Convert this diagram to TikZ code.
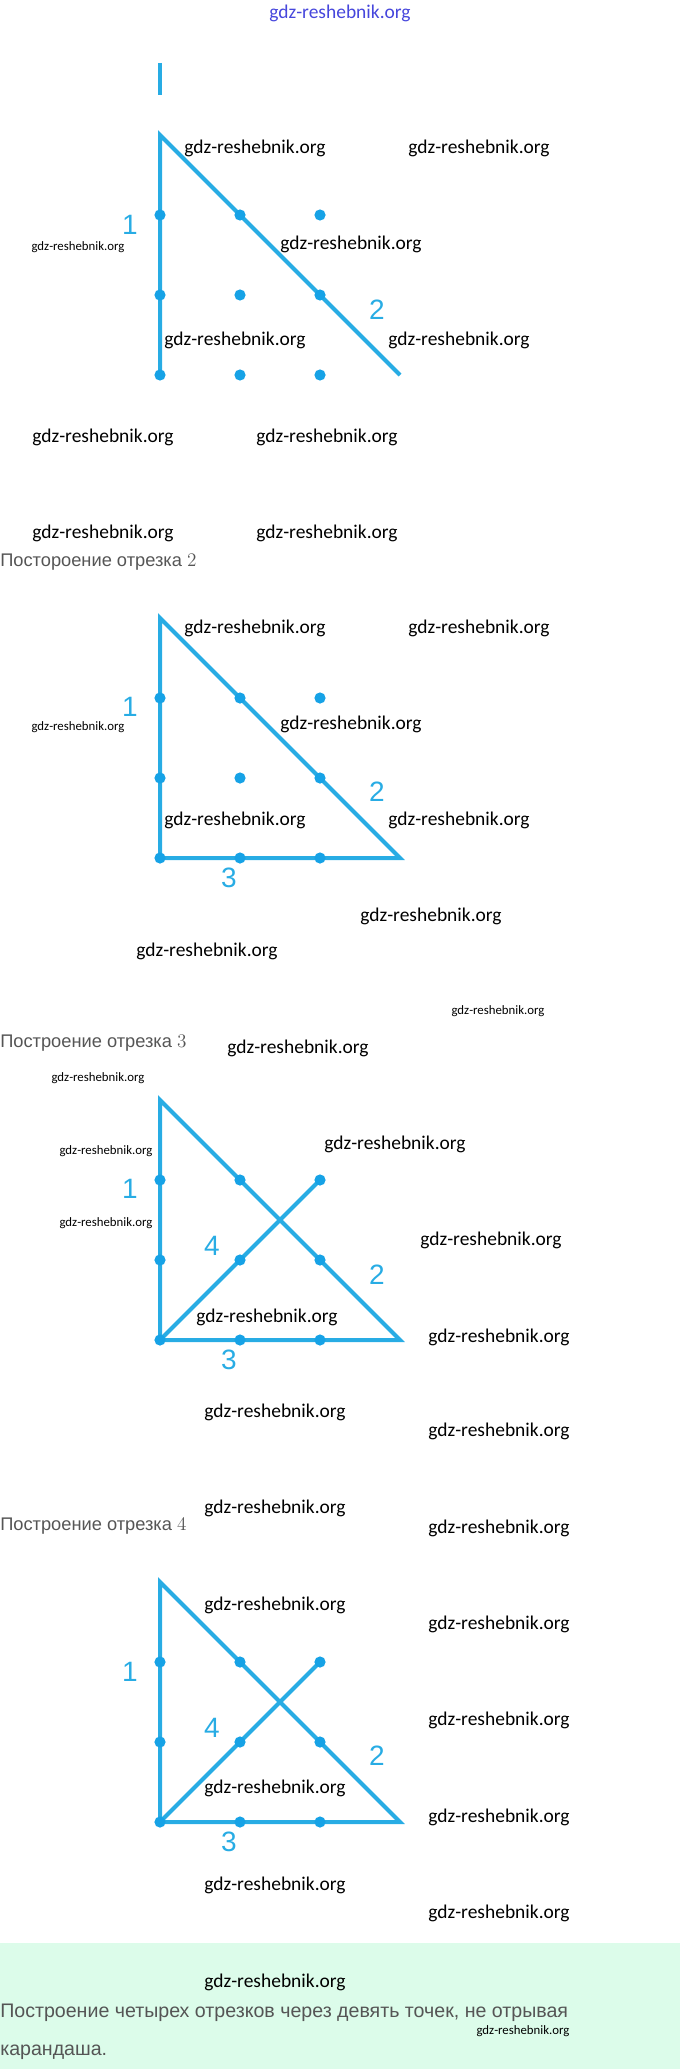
\documentclass[tikz,border=0pt]{standalone}
\usepackage{fontspec}
\setmainfont{Liberation Sans}
\newfontfamily\wmfont{Carlito}
\usetikzlibrary{backgrounds}
\definecolor{lblue}{RGB}{40,172,228}
\definecolor{dblue}{RGB}{22,162,230}
\definecolor{gtext}{RGB}{85,85,85}
\definecolor{mint}{RGB}{220,252,234}
\definecolor{wblue}{RGB}{70,70,220}
\newcommand\ninegrid[2]{%
  \coordinate (#1t) at (160,#2);
  \coordinate (#1e) at (400,#2+240);
  \foreach \r in {1,2,3}{\foreach \c in {1,2,3}{
    \node[dotnode] (#1\r\c) at ({80+80*\c},{#2+80*\r}) {};}}%
}
\begin{document}
\begin{tikzpicture}[x=0.75pt,y=-0.75pt,
  seg/.style={draw=lblue,line width=3pt,line join=miter},
  dotnode/.style={circle,fill=dblue,inner sep=0pt,minimum size=8.4pt},
  num/.style={text=lblue,font=\fontsize{21pt}{21pt}\selectfont,inner sep=0pt},
  wml/.style={font=\wmfont\fontsize{14.6pt}{15pt}\selectfont,inner sep=0pt},
  wms/.style={font=\wmfont\fontsize{9.6pt}{10pt}\selectfont,inner sep=0pt},
  head/.style={anchor=west,text=gtext,font=\fontsize{13.7pt}{16pt}\selectfont,inner sep=0pt},
  foot/.style={anchor=west,text=gtext,font=\fontsize{14.7pt}{16pt}\selectfont,inner sep=0pt}]
\useasboundingbox (0,0) rectangle (680,2069);
\fill[mint] (0,1943) rectangle (680,2069);

% top watermark
\node[wml,text=wblue] (wtop) at (340,13) {gdz-reshebnik.org};

% ---------- diagram 1 ----------
\coordinate (bar1) at (160,63);
\coordinate (bar2) at (160,95);
\draw[seg] (bar1) -- (bar2);
\ninegrid{a}{135}
\begin{scope}[on background layer]
\draw[seg] (a31.center) -- (at) -- (ae);
\end{scope}
\node[num] (a-l1) at (130,225) {1};
\node[num] (a-l2) at (377,310) {2};
\node[wml] (w1) at (255,148) {gdz-reshebnik.org};
\node[wml] (w2) at (479,148) {gdz-reshebnik.org};
\node[wms] (w3) at (78,247) {gdz-reshebnik.org};
\node[wml] (w4) at (351,244) {gdz-reshebnik.org};
\node[wml] (w5) at (235,340) {gdz-reshebnik.org};
\node[wml] (w6) at (459,340) {gdz-reshebnik.org};
\node[wml] (w7) at (103,437) {gdz-reshebnik.org};
\node[wml] (w8) at (327,437) {gdz-reshebnik.org};
\node[wml] (w9) at (103,533) {gdz-reshebnik.org};
\node[wml] (w10) at (327,533) {gdz-reshebnik.org};

% ---------- diagram 2 ----------
\node[head] (h2) at (0,562) {Постороение отрезка $2$};
\ninegrid{b}{618}
\begin{scope}[on background layer]
\draw[seg] (bt) -- (b31.center) -- (be) -- cycle;
\end{scope}
\node[num] (b-l1) at (130,707) {1};
\node[num] (b-l2) at (377,792) {2};
\node[num] (b-l3) at (229,878) {3};
\node[wml] (w11) at (255,628) {gdz-reshebnik.org};
\node[wml] (w12) at (479,628) {gdz-reshebnik.org};
\node[wms] (w13) at (78,727) {gdz-reshebnik.org};
\node[wml] (w14) at (351,724) {gdz-reshebnik.org};
\node[wml] (w15) at (235,820) {gdz-reshebnik.org};
\node[wml] (w16) at (459,820) {gdz-reshebnik.org};
\node[wml] (w17) at (431,916) {gdz-reshebnik.org};
\node[wml] (w18) at (207,951) {gdz-reshebnik.org};
\node[wms] (w19) at (498,1011) {gdz-reshebnik.org};

% ---------- diagram 3 ----------
\node[head] (h3) at (0,1043) {Построение отрезка $3$};
\ninegrid{c}{1100}
\begin{scope}[on background layer]
\draw[seg] (ct) -- (c31.center) -- (ce) -- cycle;
\draw[seg] (c31.center) -- (c13.center);
\end{scope}
\node[num] (c-l1) at (130,1189) {1};
\node[num] (c-l4) at (212,1246) {4};
\node[num] (c-l2) at (377,1275) {2};
\node[num] (c-l3) at (229,1360) {3};
\node[wml] (w20) at (298,1048) {gdz-reshebnik.org};
\node[wms] (w21) at (98,1078) {gdz-reshebnik.org};
\node[wms] (w22) at (106,1151) {gdz-reshebnik.org};
\node[wml] (w23) at (395,1144) {gdz-reshebnik.org};
\node[wms] (w24) at (106,1223) {gdz-reshebnik.org};
\node[wml] (w25) at (491,1240) {gdz-reshebnik.org};
\node[wml] (w26) at (267,1317) {gdz-reshebnik.org};
\node[wml] (w27) at (499,1337) {gdz-reshebnik.org};
\node[wml] (w28) at (275,1412) {gdz-reshebnik.org};
\node[wml] (w29) at (499,1431) {gdz-reshebnik.org};
\node[wml] (w30) at (275,1508) {gdz-reshebnik.org};
\node[wml] (w31) at (499,1528) {gdz-reshebnik.org};

% ---------- diagram 4 ----------
\node[head] (h4) at (0,1526) {Построение отрезка $4$};
\ninegrid{d}{1582}
\begin{scope}[on background layer]
\draw[seg] (dt) -- (d31.center) -- (de) -- cycle;
\draw[seg] (d31.center) -- (d13.center);
\end{scope}
\node[num] (d-l1) at (130,1672) {1};
\node[num] (d-l4) at (212,1728) {4};
\node[num] (d-l2) at (377,1756) {2};
\node[num] (d-l3) at (229,1842) {3};
\node[wml] (w32) at (275,1605) {gdz-reshebnik.org};
\node[wml] (w33) at (499,1624) {gdz-reshebnik.org};
\node[wml] (w34) at (499,1720) {gdz-reshebnik.org};
\node[wml] (w35) at (275,1788) {gdz-reshebnik.org};
\node[wml] (w36) at (499,1817) {gdz-reshebnik.org};
\node[wml] (w37) at (275,1885) {gdz-reshebnik.org};
\node[wml] (w38) at (499,1913) {gdz-reshebnik.org};

% ---------- bottom ----------
\node[wml] (w39) at (275,1982) {gdz-reshebnik.org};
\node[foot] (f1) at (0,2013) {Построение четырех отрезков через девять точек, не отрывая};
\node[wms] (w40) at (523,2031) {gdz-reshebnik.org};
\node[foot] (f2) at (0,2052) {карандаша.};
\end{tikzpicture}
\end{document}
